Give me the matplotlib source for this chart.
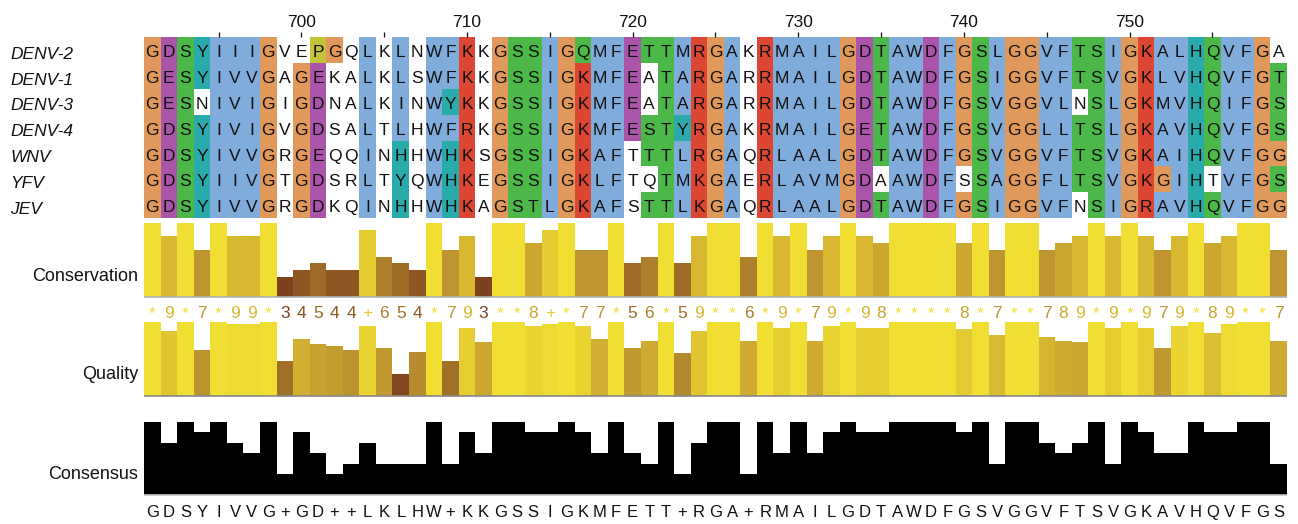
import numpy as np
import matplotlib
matplotlib.use("Agg")
import matplotlib.pyplot as plt
from matplotlib.colors import LinearSegmentedColormap
from matplotlib.transforms import blended_transform_factory
from collections import Counter

# alignment data (residues 691-759)
names = ["DENV-2", "DENV-1", "DENV-3", "DENV-4", "WNV", "YFV", "JEV"]
seqs = [
    "GDSYIIIGVEPGQLKLNWFKKGSSIGQMFETTMRGAKRMAILGDTAWDFGSLGGVFTSIGKALHQVFGA",
    "GESYIVVGAGEKALKLSWFKKGSSIGKMFEATARGARRMAILGDTAWDFGSIGGVFTSVGKLVHQVFGT",
    "GESNIVIGIGDNALKINWYKKGSSIGKMFEATARGARRMAILGDTAWDFGSVGGVLNSLGKMVHQIFGS",
    "GDSYIVIGVGDSALTLHWFRKGSSIGKMFESTYRGAKRMAILGETAWDFGSVGGLLTSLGKAVHQVFGS",
    "GDSYIVVGRGEQQINHHWHKSGSSIGKAFTTTLRGAQRLAALGDTAWDFGSVGGVFTSVGKAIHQVFGG",
    "GDSYIIVGTGDSRLTYQWHKEGSSIGKLFTQTMKGAERLAVMGDAAWDFSSAGGFLTSVGKGIHTVFGS",
    "GDSYIVVGRGDKQINHHWHKAGSTLGKAFSTTLKGAQRLAALGDTAWDFGSIGGVFNSIGRAVHQVFGG",
]
start_pos = 691

conservation = "*9*7*99*34544+654*793**8+*77*56*59**6*9*79*98****8*7**789*9*979*89**7"

quality = [1.0, 0.878, 1.0, 0.622, 1.0, 0.973, 0.973, 1.0, 0.473, 0.770,
           0.703, 0.676, 0.622, 0.946, 0.649, 0.297, 0.595, 1.0, 0.473, 0.919,
           0.730, 1.0, 1.0, 0.946, 0.973, 1.0, 0.946, 0.770, 1.0, 0.649,
           0.743, 1.0, 0.581, 0.878, 1.0, 1.0, 0.743, 1.0, 0.919, 1.0,
           0.743, 0.946, 1.0, 0.919, 0.919, 1.0, 1.0, 1.0, 1.0, 0.905,
           1.0, 0.824, 1.0, 1.0, 0.797, 0.743, 0.730, 1.0, 0.919, 1.0,
           0.919, 0.649, 0.946, 1.0, 0.851, 0.973, 1.0, 1.0, 0.743]

# clustal-x style colours
CLX = {
    "blue": "#80acdc", "red": "#dc4632", "green": "#4cb84a", "cyan": "#2aabab",
    "magenta": "#aa55aa", "yellow": "#c3c43b", "orange": "#e0995a", "pink": "#e08080",
}
HYD = "WLVIMAFCYHP"


def frac(col, group):
    return sum(r in group for r in col) / len(col)


def any85(col, letters, t=0.85):
    return any(frac(col, x) > t for x in letters)


def clustal_colour(res, col):
    hyd = frac(col, HYD) > 0.6
    kr = frac(col, "KR") > 0.6
    if res == "G":
        return CLX["orange"]
    if res == "P":
        return CLX["yellow"]
    if res in "AILMFWV":
        return CLX["blue"] if hyd else None
    if res == "C":
        if frac(col, "C") > 0.85:
            return CLX["pink"]
        return CLX["blue"] if hyd else None
    if res in "KR":
        return CLX["red"] if (kr or any85(col, "KRQ", 0.8)) else None
    if res == "E":
        return CLX["magenta"] if (kr or frac(col, "QE") > 0.5 or frac(col, "ED") > 0.5) else None
    if res == "D":
        return CLX["magenta"] if (kr or frac(col, "ED") > 0.5 or any85(col, "KRQ")) else None
    if res == "N":
        return CLX["green"] if (frac(col, "N") > 0.5 or frac(col, "D") > 0.85) else None
    if res == "Q":
        return CLX["green"] if (kr or frac(col, "QE") > 0.5 or any85(col, "QEKR")) else None
    if res in "ST":
        return CLX["green"] if (hyd or frac(col, "TS") > 0.5 or any85(col, "ST")) else None
    if res in "HY":
        return CLX["cyan"] if (hyd or any85(col, "WYACPQFHILMV")) else None
    return None


ncol = len(seqs[0])
nrow = len(seqs)
columns = ["".join(s[c] for s in seqs) for c in range(ncol)]

# consensus from the alignment
cons_letters = []
cons_frac = []
for col in columns:
    cnt = Counter(col).most_common()
    top = cnt[0][1]
    tied = [r for r, n in cnt if n == top]
    cons_letters.append(tied[0] if len(tied) == 1 else "+")
    cons_frac.append(top / nrow)

cons_vals = [11 if ch == "*" else 10 if ch == "+" else int(ch) for ch in conservation]

cmap = LinearSegmentedColormap.from_list(
    "cons", [(0.0, "#5a2a14"), (3 / 11, "#7d411e"), (7 / 11, "#be9530"),
             (9 / 11, "#d8b830"), (1.0, "#f0df32")])

W, H = 1298, 524
fig = plt.figure(figsize=(W / 100, H / 100), dpi=100)
plt.rcParams["font.family"] = ["Liberation Sans", "DejaVu Sans"]

cw = 16.565
x0 = 144
xlim = (-x0 / cw, (W - x0) / cw)


def px_axes(top, bottom):
    ax = fig.add_axes([0, 1 - bottom / H, 1, (bottom - top) / H])
    ax.set_xlim(*xlim)
    for s in ax.spines.values():
        s.set_visible(False)
    ax.set_yticks([])
    ax.set_xticks([])
    return ax


def ypx(p):
    return 1 - p / H


# ---- sequences
ax = px_axes(37.3, 218)
ax.set_ylim(nrow, 0)
for r, s in enumerate(seqs):
    for c, res in enumerate(s):
        colr = clustal_colour(res, columns[c])
        if colr is not None:
            ax.bar(c, 1, bottom=r, width=1, align="edge", color=colr, linewidth=0)
        ax.text(c + 0.5, r + 0.775, res, ha="center", va="baseline",
                fontsize=12.5, color="#111111")
    ax.text((10 - x0) / cw, r + 0.83, names[r], ha="left", va="baseline",
            fontsize=12.5, style="italic", color="#111111")

pos = np.arange(ncol) + start_pos
tick_idx = [c for c in range(ncol) if pos[c] % 5 == 0]
ax.set_xticks([c + 0.5 for c in tick_idx])
ax.set_xticklabels([str(pos[c]) if pos[c] % 10 == 0 else "" for c in tick_idx])
ax.tick_params(axis="x", top=True, bottom=False, labeltop=True, labelbottom=False,
               length=3.6, width=0.9, pad=1.5, labelsize=12.5, colors="#111111")

# ---- conservation
axc = px_axes(223, 297)
axc.set_ylim(0, 11)
cidx = np.arange(ncol)
axc.bar(cidx, cons_vals, width=1, align="edge", linewidth=0,
        color=[cmap(v / 11) for v in cons_vals])
axc.hlines(0, 0, ncol, color="#b0b0b0", lw=1.2, clip_on=False)
tr = blended_transform_factory(axc.transData, fig.transFigure)
for c, ch in enumerate(conservation):
    axc.text(c + 0.5, ypx(317.7), ch, ha="center", va="baseline", fontsize=12.5,
             color=cmap(cons_vals[c] / 11), transform=tr)
axc.text((138.3 - x0) / cw, ypx(280.7), "Conservation", ha="right", va="baseline",
         fontsize=13, color="#111111", transform=tr)

# ---- quality
axq = px_axes(322, 396)
axq.set_ylim(0, 1)
axq.bar(cidx, quality, width=1, align="edge", linewidth=0,
        color=[cmap(q) for q in quality])
axq.hlines(0, 0, ncol, color="#888888", lw=1.2, clip_on=False)
trq = blended_transform_factory(axq.transData, fig.transFigure)
axq.text((138.3 - x0) / cw, ypx(379), "Quality", ha="right", va="baseline",
         fontsize=13, color="#111111", transform=trq)

# ---- consensus
axn = px_axes(422, 495)
axn.set_ylim(0, 1)
axn.bar(cidx, cons_frac, width=1, align="edge", linewidth=0, color="black")
axn.hlines(0, 0, ncol, color="#c8c8c8", lw=1.2, clip_on=False)
trn = blended_transform_factory(axn.transData, fig.transFigure)
for c, ch in enumerate(cons_letters):
    axn.text(c + 0.5, ypx(516.7), ch, ha="center", va="baseline", fontsize=12,
             color="#111111", transform=trn)
axn.text((138.3 - x0) / cw, ypx(479), "Consensus", ha="right", va="baseline",
         fontsize=13, color="#111111", transform=trn)

fig.savefig("out.png", dpi=100)
